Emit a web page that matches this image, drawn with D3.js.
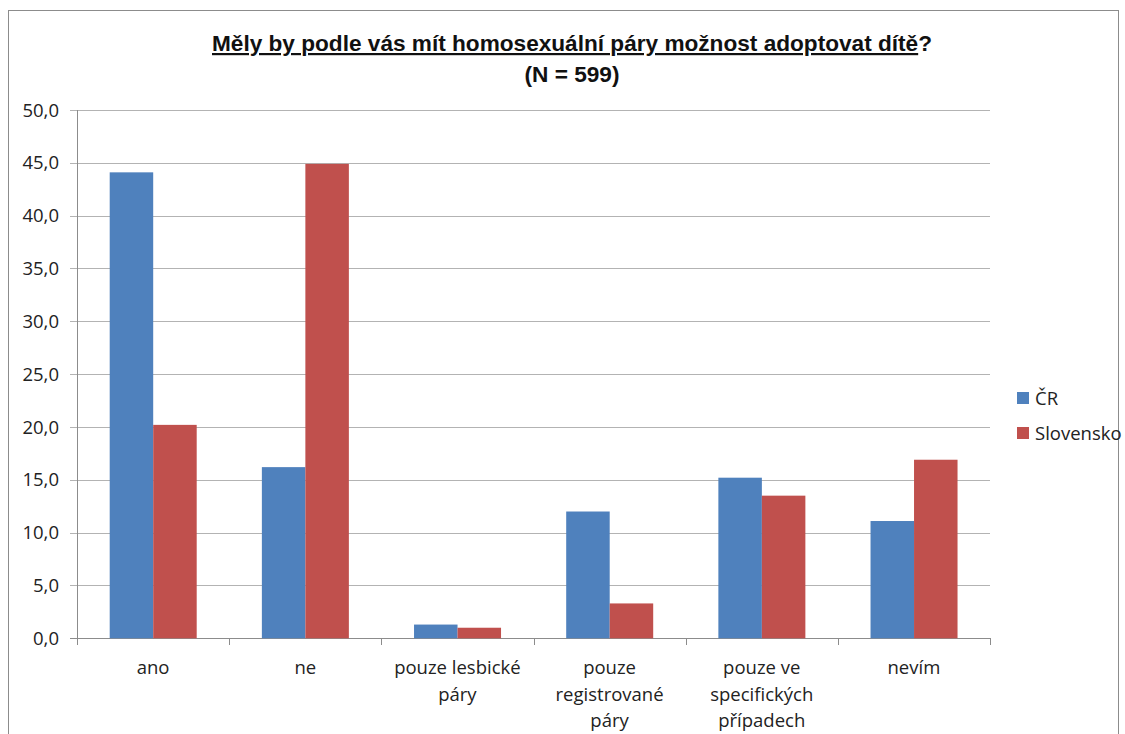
<!DOCTYPE html>
<html><head><meta charset="utf-8">
<script src="https://cdn.jsdelivr.net/npm/d3@7"></script>
<style>body{margin:0;background:#fff}svg{display:block}</style>
</head><body>
<script>
const categories = [["ano"],["ne"],["pouze lesbické","páry"],["pouze","registrované","páry"],["pouze ve","specifických","případech"],["nevím"]];
const seriesNames = ["ČR","Slovensko"];
const valuesCR = [44.1, 16.2, 1.3, 12.0, 15.2, 11.1];
const valuesSK = [20.2, 44.9, 1.0, 3.3, 13.5, 16.9];
const yTicks = [0,5,10,15,20,25,30,35,40,45,50];
const colors = ["#4F81BD","#C0504D"];

const W=1125,H=734;
const svg=d3.select("body").append("svg").attr("width",W).attr("height",H);
svg.append("rect").attr("x",8.5).attr("y",10.5).attr("width",1110).attr("height",740).attr("fill","#fff").attr("stroke","#8c8c8c");

const x0=d3.scaleBand().domain(d3.range(categories.length)).range([77,990]);
const x1=d3.scaleBand().domain([0,1]).range([32.7, 32.7+87]);
const y=d3.scaleLinear().domain([0,50]).range([638.3,110]);
const font="'Open Sans', 'Liberation Sans', sans-serif";
const fs=18.5;

const g=svg.append("g");
g.selectAll("line.grid").data(yTicks).join("line")
  .attr("x1",70).attr("x2",990).attr("y1",d=>Math.round(y(d))+0.5).attr("y2",d=>Math.round(y(d))+0.5)
  .attr("stroke",d=>d===0?"#8c8c8c":"#b3b3b3").attr("stroke-width",1);
g.selectAll("text.yt").data(yTicks).join("text")
  .attr("x",59).attr("y",d=>y(d)).attr("dy","0.36em").attr("text-anchor","end")
  .attr("font-family",font).attr("font-size",fs).attr("fill","#222")
  .text(d=>d3.format(".1f")(d).replace(".",","));
g.append("line").attr("x1",77.5).attr("x2",77.5).attr("y1",110).attr("y2",638).attr("stroke","#8c8c8c");
g.selectAll("line.ct").data(d3.range(categories.length+1)).join("line")
  .attr("x1",d=>Math.round(77+d*x0.step())+0.5).attr("x2",d=>Math.round(77+d*x0.step())+0.5)
  .attr("y1",638).attr("y2",645).attr("stroke","#8c8c8c");

const data=categories.map((c,i)=>[valuesCR[i],valuesSK[i]]);
const grp=svg.append("g").selectAll("g").data(data).join("g").attr("transform",(d,i)=>`translate(${x0(i)},0)`);
grp.selectAll("rect").data(d=>d).join("rect")
  .attr("x",(d,j)=>x1(j)).attr("width",x1.bandwidth())
  .attr("y",d=>y(d)).attr("height",d=>y(0)-y(d)).attr("fill",(d,j)=>colors[j]);

const cl=svg.append("g").selectAll("text").data(categories).join("text")
  .attr("x",(d,i)=>x0(i)+x0.bandwidth()/2).attr("y",674)
  .attr("text-anchor","middle").attr("font-family",font).attr("font-size",fs).attr("fill","#222");
cl.selectAll("tspan").data(d=>d).join("tspan")
  .attr("x",function(){return d3.select(this.parentNode).attr("x");})
  .attr("dy",(d,k)=>k===0?0:26.5).text(d=>d);

const tfont="'Liberation Sans', Arial, sans-serif";
const t=svg.append("text").attr("x",572).attr("y",51).attr("text-anchor","middle")
  .attr("font-family",tfont).attr("font-weight","bold").attr("font-size",22).attr("fill","#111")
  .attr("textLength",720).attr("lengthAdjust","spacingAndGlyphs");
t.append("tspan").attr("text-decoration","underline").text("Měly by podle vás mít homosexuální páry možnost adoptovat dítě");
t.append("tspan").text("?");
svg.append("text").attr("x",572).attr("y",82).attr("text-anchor","middle")
  .attr("font-family",tfont).attr("font-weight","bold").attr("font-size",22).attr("fill","#111")
  .attr("textLength",95).attr("lengthAdjust","spacingAndGlyphs")
  .text("(N = 599)");

const lg=svg.append("g").selectAll("g").data(seriesNames).join("g")
  .attr("transform",(d,i)=>`translate(1017,${392+i*35})`);
lg.append("rect").attr("width",12).attr("height",12).attr("fill",(d,i)=>colors[i]);
lg.append("text").attr("x",18).attr("y",6).attr("dy","0.36em")
  .attr("font-family",font).attr("font-size",fs).attr("fill","#222").text(d=>d);
</script>
</body></html>
